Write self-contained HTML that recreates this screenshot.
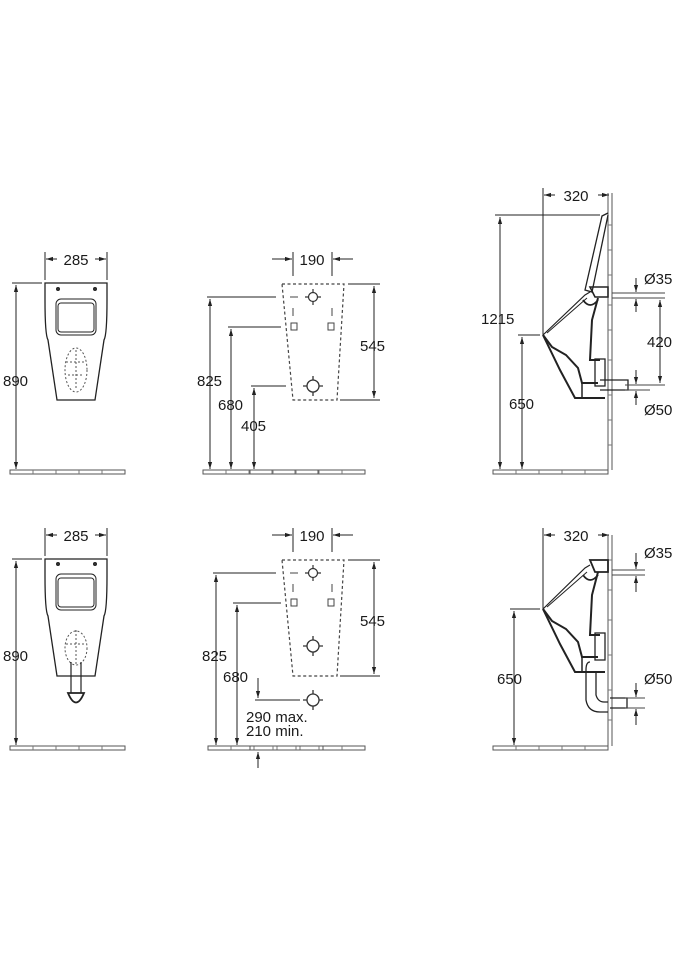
<!DOCTYPE html>
<html><head><meta charset="utf-8"><style>
html,body{margin:0;padding:0;background:#fff;}
svg{display:block}
text{font-family:"Liberation Sans",sans-serif;font-size:15px;fill:#1a1a1a}
</style></head><body>
<svg width="675" height="960" viewBox="0 0 675 960" xmlns="http://www.w3.org/2000/svg">
<defs>
<marker id="a" viewBox="0 0 10 10" refX="10" refY="5" markerWidth="7" markerHeight="7" orient="auto-start-reverse"><path d="M0,2 L10,5 L0,8 z" fill="#222"/></marker>
<g id="floor">
<path d="M0,0 h115 v4 h-115 z" fill="none" stroke="#555" stroke-width="1"/>
<path d="M23,0 v4 M46,0 v4 M69,0 v4 M92,0 v4" stroke="#777" stroke-width="1"/>
</g>
<g id="cross"><circle r="4.5" fill="none" stroke="#333" stroke-width="1.2"/><path d="M-8,0 h4 M4,0 h4 M0,-8 v4 M0,4 v4" stroke="#333" stroke-width="1.2"/></g>
<g id="crossb"><circle r="6" fill="none" stroke="#333" stroke-width="1.3"/><path d="M-10,0 h4 M6,0 h4 M0,-10 v4 M0,6 v4" stroke="#333" stroke-width="1.3"/></g>
</defs>
<g stroke="#222" stroke-width="1" fill="none">

<!-- ===== TOP ROW ===== -->
<path d="M45,283 H107 V300 Q107,335 104,340 L95,400 H57 L48,340 Q45,335 45,300 Z" stroke-width="1.3"/>
<rect x="56" y="299" width="40" height="36" rx="5"/>
<rect x="58" y="303" width="36" height="29" rx="3"/>
<circle cx="58" cy="289" r="1.5" fill="#333"/><circle cx="95" cy="289" r="1.5" fill="#333"/>
<ellipse cx="76" cy="370" rx="11" ry="22" stroke-dasharray="2 2" stroke="#555"/>
<path d="M66,362 h20 M68,375 h16 M76,350 v40" stroke-dasharray="2 2" stroke="#555"/>
<path d="M45,252 V280 M107,252 V280"/>
<path d="M57,259 H46" marker-end="url(#a)"/><path d="M95,259 H106" marker-end="url(#a)"/>
<path d="M12,283 H42"/>
<path d="M16,285 V469" marker-start="url(#a)" marker-end="url(#a)"/>
<use href="#floor" x="10" y="470"/>

<path d="M282,284 H344 L337,400 H293 Z" stroke-dasharray="3 2.5" stroke="#444" stroke-width="1.2"/>
<use href="#cross" x="313" y="297"/>
<use href="#crossb" x="313" y="386"/>
<rect x="291" y="323" width="6" height="7" stroke="#444"/><rect x="328" y="323" width="6" height="7" stroke="#444"/>
<path d="M293,308 v8 M332,308 v8 M290,297 h8" stroke="#444"/>
<path d="M293,252 V276 M332,252 V276"/>
<path d="M272,259 H292" marker-end="url(#a)"/><path d="M353,259 H333" marker-end="url(#a)"/>
<path d="M348,284 H380 M340,400 H380"/>
<path d="M374,286 V398" marker-start="url(#a)" marker-end="url(#a)"/>
<path d="M207,297 H276 M228,327 H281 M251,386 H286"/>
<path d="M210,299 V469" marker-start="url(#a)" marker-end="url(#a)"/>
<path d="M231,329 V469" marker-start="url(#a)" marker-end="url(#a)"/>
<path d="M254,388 V469" marker-start="url(#a)" marker-end="url(#a)"/>
<use href="#floor" x="203" y="470"/><use href="#floor" x="250" y="470"/>

<path d="M612,193 V470 M608,193 V470" stroke="#555"/>
<path d="M608,225 h4 M608,250 h4 M608,275 h4 M608,305 h4 M608,330 h4 M608,360 h4 M608,395 h4 M608,420 h4 M608,445 h4" stroke="#777"/>
<path d="M608,213 L602,216 L585,290 L592,292 L608,215" stroke-width="1.3"/>
<path d="M590,287 H608 V297 H595 Z" stroke-width="1.6"/>
<path d="M543,335 L585,295 L590,292" stroke-width="1.2"/>
<path d="M547,333 L587,298" stroke-width="1"/>
<path d="M583,300 Q590,310 598,300" stroke-width="1.8"/>
<path d="M598,298 L592,320 L590,360 H600" stroke-width="2"/>
<path d="M543,335 L560,370 L575,398 H605" stroke-width="2"/>
<path d="M543,335 L552,347 L566,355 L578,368 L582,383 H598" stroke-width="2"/>
<path d="M582,383 V398" stroke-width="1.5"/>
<rect x="595" y="359" width="10" height="27" stroke-width="1.3"/>
<path d="M600,380 H628 V390 H600" stroke-width="1.3"/>
<path d="M543,188 V335"/>
<path d="M555,195 H544" marker-end="url(#a)"/><path d="M598,195 H609" marker-end="url(#a)"/>
<path d="M495,215 H600"/>
<path d="M500,217 V469" marker-start="url(#a)" marker-end="url(#a)"/>
<path d="M518,335 H540"/>
<path d="M522,337 V469" marker-start="url(#a)" marker-end="url(#a)"/>
<path d="M612,293 H665 M612,298 H665 M625,385 H665 M625,390 H650" stroke="#444"/>
<path d="M636,278 V292" marker-end="url(#a)"/><path d="M636,312 V299" marker-end="url(#a)"/>
<path d="M660,300 V383" marker-start="url(#a)" marker-end="url(#a)"/>
<path d="M636,370 V384" marker-end="url(#a)"/><path d="M636,405 V391" marker-end="url(#a)"/>
<use href="#floor" x="493" y="470"/>

<!-- ===== BOTTOM ROW ===== -->
<path d="M45,559 H107 V576 Q107,611 104,616 L95,676 H57 L48,616 Q45,611 45,576 Z" stroke-width="1.3"/>
<rect x="56" y="574" width="40" height="36" rx="5"/>
<rect x="58" y="578" width="36" height="29" rx="3"/>
<circle cx="58" cy="564" r="1.5" fill="#333"/><circle cx="95" cy="564" r="1.5" fill="#333"/>
<ellipse cx="76" cy="648" rx="11" ry="17" stroke-dasharray="2 2" stroke="#555"/>
<path d="M66,644 h20 M76,630 v34" stroke-dasharray="2 2" stroke="#555"/>
<path d="M71,662 V693 M81,662 V693" stroke-width="1.2"/>
<path d="M68,693 Q76,712 84,693 Z" stroke-width="1.8"/>
<path d="M45,528 V556 M107,528 V556"/>
<path d="M57,535 H46" marker-end="url(#a)"/><path d="M95,535 H106" marker-end="url(#a)"/>
<path d="M12,559 H42"/>
<path d="M16,561 V745" marker-start="url(#a)" marker-end="url(#a)"/>
<use href="#floor" x="10" y="746"/>

<path d="M282,560 H344 L337,676 H293 Z" stroke-dasharray="3 2.5" stroke="#444" stroke-width="1.2"/>
<use href="#cross" x="313" y="573"/>
<use href="#crossb" x="313" y="646"/>
<use href="#crossb" x="313" y="700"/>
<rect x="291" y="599" width="6" height="7" stroke="#444"/><rect x="328" y="599" width="6" height="7" stroke="#444"/>
<path d="M293,584 v8 M332,584 v8 M290,573 h8" stroke="#444"/>
<path d="M293,528 V552 M332,528 V552"/>
<path d="M272,535 H292" marker-end="url(#a)"/><path d="M353,535 H333" marker-end="url(#a)"/>
<path d="M348,560 H380 M340,676 H380"/>
<path d="M374,562 V674" marker-start="url(#a)" marker-end="url(#a)"/>
<path d="M213,573 H276 M233,603 H281 M255,700 H300"/>
<path d="M216,575 V745" marker-start="url(#a)" marker-end="url(#a)"/>
<path d="M237,605 V745" marker-start="url(#a)" marker-end="url(#a)"/>
<path d="M258,678 V698" marker-end="url(#a)"/>
<path d="M258,768 V752" marker-end="url(#a)"/>
<use href="#floor" x="208" y="746"/><use href="#floor" x="250" y="746"/>

<path d="M612,535 V746 M608,535 V746" stroke="#555"/>
<path d="M608,560 h4 M608,590 h4 M608,620 h4 M608,655 h4 M608,690 h4 M608,720 h4" stroke="#777"/>
<path d="M590,560 H608 V572 H595 Z" stroke-width="1.8"/>
<path d="M543,609 L585,568 L590,565" stroke-width="1.2"/>
<path d="M547,607 L587,572" stroke-width="1"/>
<path d="M583,575 Q590,585 598,575" stroke-width="1.8"/>
<path d="M598,572 L592,595 L590,635 H600" stroke-width="2"/>
<path d="M543,609 L560,644 L575,672 H605" stroke-width="2"/>
<path d="M543,609 L552,621 L566,629 L578,642 L582,657 H598" stroke-width="2"/>
<path d="M582,657 V672" stroke-width="1.5"/>
<rect x="595" y="633" width="10" height="27" stroke-width="1.3"/>
<path d="M590,662 Q586,662 586,670 V700 Q588,712 600,712 H608 M596,672 V695 Q598,702 604,702 H608" stroke-width="1.3"/>
<path d="M610,698 H627 V708 H610" stroke-width="1.3"/>
<path d="M543,528 V609"/>
<path d="M555,535 H544" marker-end="url(#a)"/><path d="M598,535 H609" marker-end="url(#a)"/>
<path d="M510,609 H540"/>
<path d="M514,611 V745" marker-start="url(#a)" marker-end="url(#a)"/>
<path d="M612,570 H645 M612,575 H645 M625,698 H645 M625,708 H645" stroke="#444"/>
<path d="M636,553 V569" marker-end="url(#a)"/><path d="M636,592 V576" marker-end="url(#a)"/>
<path d="M636,683 V697" marker-end="url(#a)"/><path d="M636,725 V709" marker-end="url(#a)"/>
<use href="#floor" x="493" y="746"/>
</g>

<g>
<text x="76" y="265" text-anchor="middle">285</text>
<text x="3" y="386">890</text>
<text x="312" y="265" text-anchor="middle">190</text>
<text x="360" y="351">545</text>
<text x="197" y="386">825</text>
<text x="218" y="410">680</text>
<text x="241" y="431">405</text>
<text x="576" y="201" text-anchor="middle">320</text>
<text x="481" y="324">1215</text>
<text x="509" y="409">650</text>
<text x="644" y="284">Ø35</text>
<text x="647" y="347">420</text>
<text x="644" y="415">Ø50</text>

<text x="76" y="541" text-anchor="middle">285</text>
<text x="3" y="661">890</text>
<text x="312" y="541" text-anchor="middle">190</text>
<text x="360" y="626">545</text>
<text x="202" y="661">825</text>
<text x="223" y="682">680</text>
<text x="246" y="722">290 max.</text>
<text x="246" y="736">210 min.</text>
<text x="576" y="541" text-anchor="middle">320</text>
<text x="497" y="684">650</text>
<text x="644" y="558">Ø35</text>
<text x="644" y="684">Ø50</text>
</g>
</svg>
</body></html>
